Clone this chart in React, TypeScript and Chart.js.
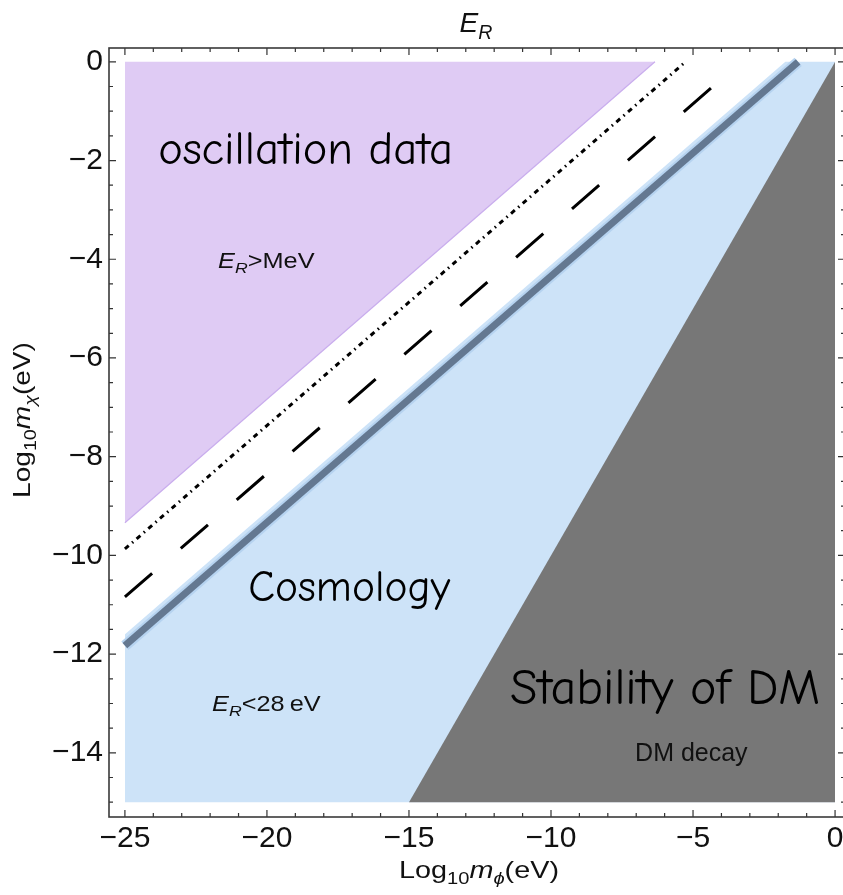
import React, { useEffect, useRef } from 'react';
import { Chart, registerables } from 'chart.js';

Chart.register(...registerables);

// ---------- axis ranges & ticks ----------
const X_MIN = -25.56;
const X_MAX = 0.35;
const Y_MIN = -15.3;
const Y_MAX = 0.28;

const xMajorTicks = [-25, -20, -15, -10, -5, 0];
const xTickLabels = ['\u221225', '\u221220', '\u221215', '\u221210', '\u22125', '0'];
const xMinorTicks = [-25, -24, -23, -22, -21, -20, -19, -18, -17, -16, -15, -14, -13, -12, -11, -10, -9, -8, -7, -6, -5, -4, -3, -2, -1, 0];

const yMajorTicks = [0, -2, -4, -6, -8, -10, -12, -14];
const yTickLabels = ['0', '\u22122', '\u22124', '\u22126', '\u22128', '\u221210', '\u221212', '\u221214'];
const yMinorTicks = [0, -0.5, -1, -1.5, -2, -2.5, -3, -3.5, -4, -4.5, -5, -5.5, -6, -6.5, -7, -7.5, -8, -8.5, -9, -9.5, -10, -10.5, -11, -11.5, -12, -12.5, -13, -13.5, -14, -14.5, -15];

// ---------- regions & lines (log10 m_phi, log10 m_chi) ----------
const oscillationEdgeX = [-25, -6.34];
const oscillationEdgeY = [-9.34, 0];

const cosmologyEdgeX = [-25, -1.75, 0];
const cosmologyEdgeY = [-11.6, 0, 0];

const decayEdgeX = [-15, 0];
const decayEdgeY = [-15, 0];

const dotDashedX = [-25, -5.26];
const dotDashedY = [-9.87, 0];

const dashedX = [-25, -3.98];
const dashedY = [-10.84, -0.34];

const solidX = [-25, -1.3];
const solidY = [-11.83, 0];

const REGION_FLOOR = -15;
const REGION_CEIL = 0;

const pts = (xs: number[], ys: number[]) => xs.map((x, i) => ({ x, y: ys[i] }));

const SANS = '"Liberation Sans", Arial, Helvetica, sans-serif';
const COMIC = '"Comic Sans MS", "Comic Neue", "Open Sans", sans-serif';

type Seg = { t: string; italic?: boolean; sub?: boolean };

function drawRich(
  ctx: CanvasRenderingContext2D,
  segs: Seg[],
  x: number,
  y: number,
  size: number,
  align: 'left' | 'center',
  sx = 1,
  family = SANS,
  color = '#111'
) {
  const subSize = size * 0.7;
  const fontOf = (s: Seg) => `${s.italic ? 'italic ' : ''}${s.sub ? subSize : size}px ${family}`;
  let total = 0;
  const widths = segs.map((s) => {
    ctx.font = fontOf(s);
    const w = ctx.measureText(s.t).width;
    total += w;
    return w;
  });
  ctx.save();
  ctx.translate(x, y);
  ctx.scale(sx, 1);
  ctx.fillStyle = color;
  ctx.textBaseline = 'alphabetic';
  ctx.textAlign = 'left';
  let cx = align === 'center' ? -total / 2 : 0;
  segs.forEach((s, i) => {
    ctx.font = fontOf(s);
    ctx.fillText(s.t, cx, s.sub ? size * 0.24 : 0);
    cx += widths[i];
  });
  ctx.restore();
}

function drawFitted(ctx: CanvasRenderingContext2D, text: string, x: number, y: number, width: number, family: string) {
  ctx.save();
  ctx.font = `40px ${family}`;
  const w = ctx.measureText(text).width;
  const size = (40 * width) / w;
  ctx.font = `${size}px ${family}`;
  ctx.fillStyle = '#000';
  ctx.textBaseline = 'alphabetic';
  ctx.textAlign = 'left';
  ctx.fillText(text, x, y);
  ctx.restore();
}

const framePlugin = {
  id: 'frameTicks',
  afterDatasetsDraw(chart: any) {
    const { ctx, chartArea: a, scales } = chart;
    const sx = scales.x;
    const sy = scales.y;
    ctx.save();
    ctx.strokeStyle = '#333';
    ctx.lineWidth = 1.2;
    const major = 7;
    const minor = 4;
    xMinorTicks.forEach((v) => {
      const p = sx.getPixelForValue(v);
      const len = xMajorTicks.includes(v) ? major : minor;
      ctx.beginPath();
      ctx.moveTo(p, a.bottom);
      ctx.lineTo(p, a.bottom - len);
      ctx.moveTo(p, a.top);
      ctx.lineTo(p, a.top + len);
      ctx.stroke();
    });
    yMinorTicks.forEach((v) => {
      const p = sy.getPixelForValue(v);
      const len = yMajorTicks.includes(v) ? major : minor;
      ctx.beginPath();
      ctx.moveTo(a.left, p);
      ctx.lineTo(a.left + len, p);
      ctx.moveTo(a.right, p);
      ctx.lineTo(a.right - len, p);
      ctx.stroke();
    });
    ctx.lineWidth = 1.6;
    ctx.strokeStyle = '#3a3a3a';
    ctx.strokeRect(a.left, a.top, a.right - a.left, a.bottom - a.top);
    ctx.restore();
  },
};

const textPlugin = {
  id: 'texts',
  afterDraw(chart: any) {
    const { ctx, scales } = chart;
    const px = (v: number) => scales.x.getPixelForValue(v);
    const py = (v: number) => scales.y.getPixelForValue(v);

    // plot title
    drawRich(ctx, [{ t: 'E', italic: true }, { t: 'R', italic: true, sub: true }], 476, 32, 28, 'center');

    // axis titles
    drawRich(
      ctx,
      [{ t: 'Log' }, { t: '10', sub: true }, { t: 'm', italic: true }, { t: '\u03D5', italic: true, sub: true }, { t: '(eV)' }],
      479,
      878,
      24,
      'center',
      1.2
    );
    ctx.save();
    ctx.translate(30, 420);
    ctx.rotate(-Math.PI / 2);
    drawRich(
      ctx,
      [{ t: 'Log' }, { t: '10', sub: true }, { t: 'm', italic: true }, { t: '\u03C7', italic: true, sub: true }, { t: '(eV)' }],
      0,
      0,
      24,
      'center',
      1.17
    );
    ctx.restore();

    // region labels
    drawFitted(ctx, 'oscillation data', px(-23.83), py(-2.07), 295, COMIC);
    drawFitted(ctx, 'Cosmology', px(-20.66), py(-10.92), 202, COMIC);
    drawFitted(ctx, 'Stability of DM', px(-11.44), py(-13.01), 310, COMIC);

    drawRich(ctx, [{ t: 'E', italic: true }, { t: 'R', italic: true, sub: true }, { t: '>MeV' }], px(-21.72), py(-4.18), 22, 'left', 1.15);
    drawRich(ctx, [{ t: 'E', italic: true }, { t: 'R', italic: true, sub: true }, { t: '<28\u2009eV' }], px(-21.93), py(-13.15), 22, 'left', 1.15);
    drawRich(ctx, [{ t: 'DM decay' }], px(-7.04), py(-14.16), 25, 'left', 1.0);
  },
};

export default function App() {
  const ref = useRef<HTMLCanvasElement>(null);

  useEffect(() => {
    if (!ref.current) return;
    const chart = new Chart(ref.current, {
      type: 'scatter',
      data: {
        datasets: [
          {
            label: 'solid',
            data: pts(solidX, solidY),
            showLine: true,
            borderColor: '#647891',
            borderWidth: 7,
            pointRadius: 0,
            fill: false,
            order: 1,
          },
          {
            label: 'solid halo',
            data: pts(solidX, solidY),
            showLine: true,
            borderColor: '#b6d3f0',
            borderWidth: 11,
            pointRadius: 0,
            fill: false,
            order: 2,
          },
          {
            label: 'dashed',
            data: pts(dashedX, dashedY),
            showLine: true,
            borderColor: '#000',
            borderWidth: 3,
            borderDash: [36, 38],
            pointRadius: 0,
            fill: false,
            order: 3,
          },
          {
            label: 'dot-dashed',
            data: pts(dotDashedX, dotDashedY),
            showLine: true,
            borderColor: '#000',
            borderWidth: 3,
            borderDash: [5, 4.5, 1.5, 4.5],
            pointRadius: 0,
            fill: false,
            order: 4,
          },
          {
            label: 'oscillation data',
            data: pts(oscillationEdgeX, oscillationEdgeY),
            showLine: true,
            borderColor: '#c9aded',
            borderWidth: 1.2,
            backgroundColor: '#dfcbf4',
            pointRadius: 0,
            fill: { value: REGION_CEIL },
            order: 5,
          },
          {
            label: 'DM decay',
            data: pts(decayEdgeX, decayEdgeY),
            showLine: true,
            borderColor: '#777777',
            borderWidth: 0,
            backgroundColor: '#777777',
            pointRadius: 0,
            fill: { value: REGION_FLOOR },
            order: 6,
          },
          {
            label: 'Cosmology',
            data: pts(cosmologyEdgeX, cosmologyEdgeY),
            showLine: true,
            borderColor: '#c4ddf5',
            borderWidth: 0,
            backgroundColor: '#cde3f8',
            pointRadius: 0,
            fill: { value: REGION_FLOOR },
            order: 7,
          },
        ],
      },
      options: {
        responsive: false,
        animation: false,
        devicePixelRatio: 1,
        layout: { padding: { top: 48, right: 5, left: 0, bottom: 0 } },
        plugins: {
          legend: { display: false },
          tooltip: { enabled: false },
          title: { display: false },
        },
        scales: {
          x: {
            type: 'linear',
            min: X_MIN,
            max: X_MAX,
            grid: { display: false, drawTicks: false },
            border: { display: false },
            ticks: {
              autoSkip: false,
              maxRotation: 0,
              padding: 4,
              color: '#111',
              font: { family: SANS, size: 30 },
              callback: (v: any) => {
                const i = xMajorTicks.indexOf(Number(v));
                return i >= 0 ? xTickLabels[i] : '';
              },
            },
            afterBuildTicks: (s: any) => {
              s.ticks = xMajorTicks.map((v) => ({ value: v }));
            },
            afterFit: (s: any) => {
              s.height = 78;
            },
          },
          y: {
            type: 'linear',
            min: Y_MIN,
            max: Y_MAX,
            grid: { display: false, drawTicks: false },
            border: { display: false },
            ticks: {
              autoSkip: false,
              padding: 6,
              color: '#111',
              font: { family: SANS, size: 30 },
              callback: (v: any) => {
                const i = yMajorTicks.indexOf(Number(v));
                return i >= 0 ? yTickLabels[i] : '';
              },
            },
            afterBuildTicks: (s: any) => {
              s.ticks = yMajorTicks.map((v) => ({ value: v }));
            },
            afterFit: (s: any) => {
              s.width = 109;
            },
          },
        },
      } as any,
      plugins: [framePlugin, textPlugin],
    });
    return () => chart.destroy();
  }, []);

  return (
    <div
      style={{
        position: 'fixed',
        left: 0,
        top: 0,
        width: 843,
        height: 895,
        overflow: 'hidden',
        background: '#fff',
      }}
    >
      <canvas ref={ref} width={850} height={895} style={{ display: 'block', width: 850, height: 895 }} />
    </div>
  );
}
